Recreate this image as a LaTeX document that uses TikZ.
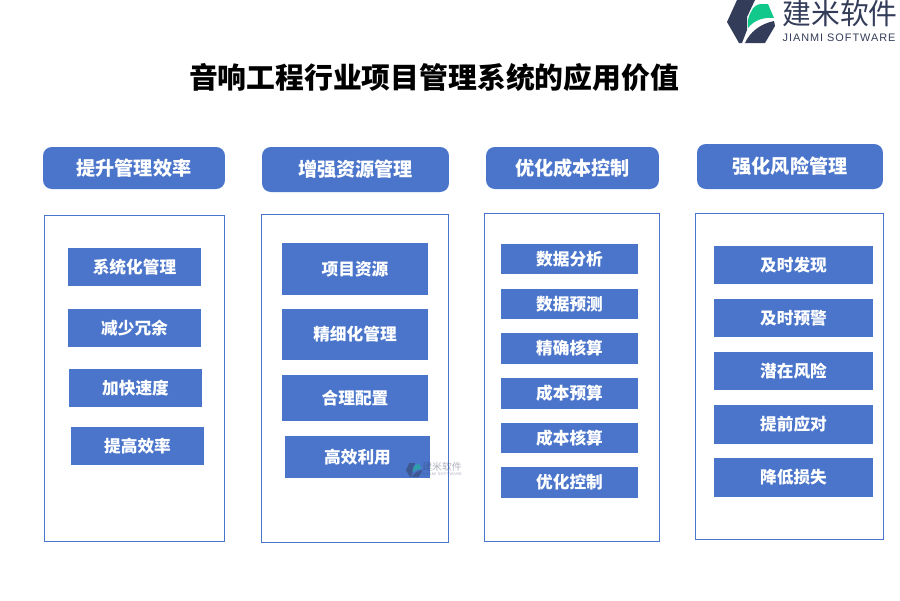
\documentclass[tikz,border=0pt]{standalone}
\usepackage{fontspec}
\newfontfamily\cjk{Noto Sans CJK SC}
\newfontfamily\logofont[LetterSpace=9]{Liberation Sans}
\definecolor{jmblue}{HTML}{4A75CB}
\definecolor{jmnavy}{HTML}{333C58}
\definecolor{jmgreen}{HTML}{12C88A}
\newcommand{\logomark}{%
    \fill[jmnavy] (737,0) -- (727,22) -- (739,43) -- (742,43) -- (747,30) -- (747,17) -- (755,0) -- cycle;
    \fill[jmnavy] (745,43) .. controls (750,32) and (760,24) .. (774,21) -- (775,26) -- (765,43) -- cycle;
    \fill[jmgreen] (748,28) .. controls (747,20) and (749,15) .. (751,12) .. controls (753,7) and (757,4) .. (761,4) -- (768,4) -- (774,18) .. controls (764,17) and (754,20) .. (748,28) -- cycle;
}
\tikzset{
    head/.style={fill=jmblue,rounded corners=5pt,inner sep=0pt,text=white,font=\cjk\bfseries\fontsize{10.9}{13}\selectfont},
    panel/.style={draw=jmblue,line width=0.45pt,inner sep=0pt},
    item/.style={fill=jmblue,inner sep=0pt,text=white,font=\cjk\bfseries\fontsize{9.5}{12}\selectfont}
}
\begin{document}
\begin{tikzpicture}[x=0.02cm,y=-0.02cm]
    \useasboundingbox (0,0) rectangle (900,600);

    % logo
    \logomark
    \node[inner sep=0pt,font=\cjk\fontsize{16.4}{18}\selectfont,text=jmnavy] (logotext) at (840,14) {建米软件};
    \node[inner sep=0pt,font=\logofont\fontsize{6.2}{8}\selectfont,text=jmnavy] (logosub) at (839,38) {JIANMI SOFTWARE};

    % title
    \node[inner sep=0pt,font=\cjk\bfseries\fontsize{16.4}{19}\selectfont] (title) at (434,77.5) {音响工程行业项目管理系统的应用价值};

    % first column
    \node[panel,minimum width=3.60cm,minimum height=6.52cm] (panelA) at (134.5,378.5) {};
    \node[head,minimum width=3.64cm,minimum height=0.84cm] (headA) at (134,168) {提升管理效率};
    \begin{scope}[every node/.append style={item,minimum width=2.66cm,minimum height=0.76cm}]
        \node (sysmgmt) at (134.5,267) {系统化管理};
        \node (reduce) at (134.5,328) {减少冗余};
        \node (speedup) at (135.5,388) {加快速度};
        \node (effic) at (137.5,446) {提高效率};
    \end{scope}

    % second column
    \node[panel,minimum width=3.74cm,minimum height=6.56cm] (panelB) at (355,378.5) {};
    \node[head,minimum width=3.74cm,minimum height=0.90cm] (headB) at (355.5,169.5) {增强资源管理};
    \begin{scope}[every node/.append style={item,minimum width=2.92cm}]
        \node[minimum height=1.04cm] (resource) at (355,269) {项目资源};
        \node[minimum height=1.02cm] (finemgmt) at (355,334.5) {精细化管理};
        \node[minimum height=0.92cm] (config) at (355,398) {合理配置};
        \node[minimum height=0.84cm] (useful) at (357.5,457) {高效利用};
    \end{scope}

    % watermark
    \begin{scope}[opacity=0.5,shift={(406,463)},scale=0.33,shift={(-727,0)}]
        \logomark
    \end{scope}
    \begin{scope}[opacity=0.4]
        \node[inner sep=0pt,font=\cjk\fontsize{5.6}{7}\selectfont,text=jmnavy] (marktext) at (442,467) {建米软件};
        \node[inner sep=0pt,font=\logofont\fontsize{2.2}{3}\selectfont,text=jmnavy] (marksub) at (442,474.5) {JIANMI SOFTWARE};
    \end{scope}

    % third column
    \node[panel,minimum width=3.50cm,minimum height=6.56cm] (panelC) at (572,377.5) {};
    \node[head,minimum width=3.46cm,minimum height=0.84cm] (headC) at (572.5,168) {优化成本控制};
    \begin{scope}[every node/.append style={item,minimum width=2.74cm,minimum height=0.61cm}]
        \node (analysis) at (569.5,259) {数据分析};
        \node (forecast) at (569.5,304) {数据预测};
        \node (account) at (569.5,348.5) {精确核算};
        \node (budget) at (569.5,393.5) {成本预算};
        \node (costcalc) at (569.5,438) {成本核算};
        \node (control) at (569.5,482.5) {优化控制};
    \end{scope}

    % fourth column
    \node[panel,minimum width=3.76cm,minimum height=6.52cm] (panelD) at (789.5,376.5) {};
    \node[head,minimum width=3.72cm,minimum height=0.90cm] (headD) at (790,166.5) {强化风险管理};
    \begin{scope}[every node/.append style={item,minimum width=3.18cm,minimum height=0.77cm}]
        \node (detect) at (793.5,265) {及时发现};
        \node (warning) at (793.5,318) {及时预警};
        \node (potential) at (793.5,371) {潜在风险};
        \node (respond) at (793.5,424.5) {提前应对};
        \node (lower) at (793.5,477.5) {降低损失};
    \end{scope}
\end{tikzpicture}
\end{document}
